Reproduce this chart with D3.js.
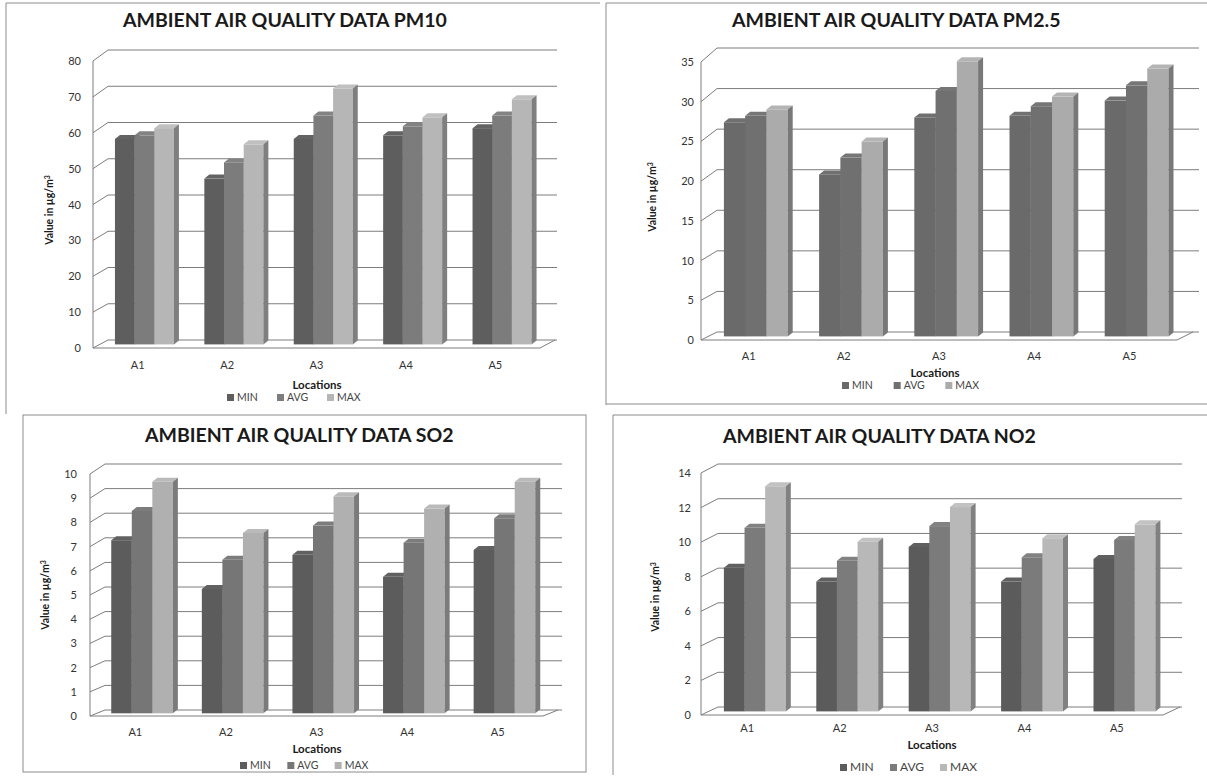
<!DOCTYPE html>
<html lang="en">
<head>
    <meta charset="UTF-8">
    <title>Ambient Air Quality Data</title>
    <script src="https://cdn.jsdelivr.net/npm/d3@7/dist/d3.min.js"></script>
    <style>
        body { margin: 0; background: #fff; }
        svg { display: block; }
        text { font-family: Lato, "Open Sans", sans-serif; }
    </style>
</head>
<body>
<script>

    // categories / series
    const locations = ["A1", "A2", "A3", "A4", "A5"];
    const seriesNames = ["MIN", "AVG", "MAX"];

    // PM10
    const pm10Min = [57, 46, 57, 58, 60];
    const pm10Avg = [58, 50.5, 63.5, 60.5, 63.5];
    const pm10Max = [60, 55.5, 71, 63, 68];
    const pm10Ticks = [0, 10, 20, 30, 40, 50, 60, 70, 80];

    // PM2.5
    const pm25Min = [26.7, 20.2, 27.3, 27.5, 29.4];
    const pm25Avg = [27.5, 22.3, 30.6, 28.7, 31.3];
    const pm25Max = [28.3, 24.3, 34.3, 29.9, 33.4];
    const pm25Ticks = [0, 5, 10, 15, 20, 25, 30, 35];

    // SO2
    const so2Min = [7.1, 5.1, 6.5, 5.6, 6.7];
    const so2Avg = [8.3, 6.3, 7.7, 7.0, 8.0];
    const so2Max = [9.5, 7.4, 8.9, 8.4, 9.5];
    const so2Ticks = [0, 1, 2, 3, 4, 5, 6, 7, 8, 9, 10];

    // NO2
    const no2Min = [8.3, 7.5, 9.5, 7.5, 8.8];
    const no2Avg = [10.6, 8.7, 10.7, 8.9, 9.9];
    const no2Max = [13.0, 9.8, 11.8, 10.0, 10.8];
    const no2Ticks = [0, 2, 4, 6, 8, 10, 12, 14];

    const width = 1207;
    const height = 783;

    const svg = d3.select("body")
        .append("svg")
        .attr("width", width)
        .attr("height", height);

    // panel frames
    const frameColor = "#8c8c8c";
    svg.append("path").attr("d", "M6,414V3H600").attr("fill", "none").attr("stroke", frameColor);
    svg.append("path").attr("d", "M606,405V3H1207M606,404H1207").attr("fill", "none").attr("stroke", frameColor);
    svg.append("rect").attr("x", 23).attr("y", 415).attr("width", 563).attr("height", 357)
        .attr("fill", "none").attr("stroke", frameColor);
    svg.append("path").attr("d", "M613,775V415H1207").attr("fill", "none").attr("stroke", frameColor);

    function drawPanel(p) {
        const g = svg.append("g");
        const yMax = d3.max(p.ticks);

        // front plane, back wall, and the plane the bar faces sit on
        const yFront = d3.scaleLinear().domain([0, yMax]).range(p.yFront);
        const yBack = d3.scaleLinear().domain([0, yMax]).range(p.yBack);
        const t = 0.45;
        const yBar = d3.scaleLinear().domain([0, yMax])
            .range([p.yFront[0] + t * (p.yBack[0] - p.yFront[0]), p.yFront[1] + t * (p.yBack[1] - p.yFront[1])]);

        const x = d3.scaleBand().domain(locations).range([p.x0, p.x1]).paddingInner(p.pad).paddingOuter(p.pad / 2);
        const xs = d3.scaleBand().domain(seriesNames).range([0, x.bandwidth()]);

        // walls + gridlines
        const grid = g.append("g").attr("stroke", "#7d7d7d").attr("stroke-width", 1).attr("fill", "none");
        grid.selectAll(".back").data(p.ticks).join("line")
            .attr("x1", p.x0 + p.dx).attr("x2", p.x1 + p.dx + p.extra)
            .attr("y1", d => yBack(d)).attr("y2", d => yBack(d));
        grid.selectAll(".side").data(p.ticks).join("line")
            .attr("x1", p.x0).attr("x2", p.x0 + p.dx)
            .attr("y1", d => yFront(d)).attr("y2", d => yBack(d));
        grid.append("line")
            .attr("x1", p.x0).attr("x2", p.x0)
            .attr("y1", yFront(0)).attr("y2", yFront(yMax));
        grid.append("path")
            .attr("d", `M${p.x0},${yFront(0)}H${p.x1}L${p.x1 + p.dx},${yBack(0)}`);

        // y axis labels
        const yAxis = g.append("g")
            .attr("transform", `translate(${p.x0 - p.tickGap},0)`)
            .call(d3.axisLeft(yFront).tickValues(p.ticks).tickSize(0).tickPadding(0));
        yAxis.select(".domain").remove();
        yAxis.selectAll("text")
            .attr("fill", "#333")
            .style("font-size", "11px");

        // x axis labels
        const xAxis = g.append("g")
            .attr("transform", `translate(0,${p.xLabelY})`)
            .call(d3.axisBottom(x).tickSize(0).tickPadding(0));
        xAxis.select(".domain").remove();
        xAxis.selectAll("text")
            .attr("y", 0).attr("dy", 0)
            .attr("fill", "#333")
            .style("font-size", "11px");

        // bars (front, top, side)
        const rows = locations.map((loc, i) => ({
            loc,
            vals: seriesNames.map((s, j) => ({ s, v: p.values[j][i], j }))
        }));
        const bdx = 5, bdy = 4;
        const shift = p.dx * t;
        rows.forEach(r => {
            r.vals.forEach(d => {
                const bx = x(r.loc) + xs(d.s) + shift;
                const bw = xs.bandwidth();
                const top = yBar(d.v);
                const bot = yBar(0);
                const c = d3.color(p.colors[d.j]);
                g.append("rect")
                    .attr("x", bx).attr("y", top)
                    .attr("width", bw).attr("height", bot - top)
                    .attr("fill", c.formatHex());
                g.append("path")
                    .attr("d", `M${bx},${top}L${bx + bdx},${top - bdy}H${bx + bw + bdx}L${bx + bw},${top}Z`)
                    .attr("fill", c.brighter(0.15).formatHex());
                g.append("path")
                    .attr("d", `M${bx + bw},${top}L${bx + bw + bdx},${top - bdy}V${bot - bdy}L${bx + bw},${bot}Z`)
                    .attr("fill", c.darker(1).formatHex());
            });
        });

        // title
        g.append("text")
            .attr("x", p.titleX).attr("y", p.titleY)
            .attr("fill", "#1a1a1a")
            .style("font-size", "19.5px")
            .style("font-weight", "bold")
            .text(p.title);

        // axis titles
        const yt = g.append("text")
            .attr("transform", `translate(${p.yTitleX},${p.yTitleY}) rotate(-90)`)
            .attr("text-anchor", "middle")
            .attr("fill", "#1a1a1a")
            .style("font-size", "10.5px")
            .style("font-weight", "bold");
        yt.append("tspan").text(p.yTitle);
        yt.append("tspan").attr("dy", -3).style("font-size", "7px").text("3");

        g.append("text")
            .attr("x", p.locX).attr("y", p.locY)
            .attr("text-anchor", "middle")
            .attr("fill", "#1a1a1a")
            .style("font-size", "11.5px")
            .style("font-weight", "bold")
            .text("Locations");

        // legend
        const lx = d3.scaleBand().domain(seriesNames).range(p.legend);
        const leg = g.selectAll(".leg").data(seriesNames).join("g")
            .attr("transform", d => `translate(${lx(d)},${p.legendY})`);
        leg.append("rect")
            .attr("x", 0).attr("y", -7)
            .attr("width", 7).attr("height", 7)
            .attr("fill", (d, i) => p.colors[i]);
        leg.append("text")
            .attr("x", 10).attr("y", 0)
            .attr("fill", "#444")
            .style("font-size", p.legendSize)
            .text(d => d);
    }

    drawPanel({
        title: "AMBIENT AIR QUALITY DATA PM10", titleX: 123, titleY: 27,
        values: [pm10Min, pm10Avg, pm10Max], ticks: pm10Ticks,
        x0: 93, x1: 540, dx: 15, extra: 2, yFront: [348, 61], yBack: [340, 50], pad: 0.34,
        tickGap: 12, xLabelY: 369, yTitle: "Value in µg/m", yTitleX: 53, yTitleY: 210,
        locX: 317, locY: 389, legend: [227, 377], legendY: 401, legendSize: "10.5px",
        colors: ["#5e5e5e", "#7c7c7c", "#b6b6b6"]
    });

    drawPanel({
        title: "AMBIENT AIR QUALITY DATA PM2.5", titleX: 732, titleY: 27,
        values: [pm25Min, pm25Avg, pm25Max], ticks: pm25Ticks,
        x0: 701, x1: 1177, dx: 16, extra: 6, yFront: [340, 62], yBack: [332, 48], pad: 0.33,
        tickGap: 7, xLabelY: 360, yTitle: "Value in µg/m", yTitleX: 656, yTitleY: 197,
        locX: 935, locY: 377, legend: [842, 997], legendY: 389, legendSize: "10.5px",
        colors: ["#6a6a6a", "#707070", "#ababab"]
    });

    drawPanel({
        title: "AMBIENT AIR QUALITY DATA SO2", titleX: 145, titleY: 442,
        values: [so2Min, so2Avg, so2Max], ticks: so2Ticks,
        x0: 90, x1: 543, dx: 15, extra: 4, yFront: [716, 474], yBack: [710, 464], pad: 0.32,
        tickGap: 13, xLabelY: 736, yTitle: "Value in µg/m", yTitleX: 49, yTitleY: 595,
        locX: 317, locY: 753, legend: [240, 382], legendY: 769, legendSize: "10.5px",
        colors: ["#5c5c5c", "#767676", "#b0b0b0"]
    });

    drawPanel({
        title: "AMBIENT AIR QUALITY DATA NO2", titleX: 723, titleY: 443,
        values: [no2Min, no2Avg, no2Max], ticks: no2Ticks,
        x0: 701, x1: 1163, dx: 17, extra: 2, yFront: [715, 473], yBack: [707, 464], pad: 0.33,
        tickGap: 10, xLabelY: 732, yTitle: "Value in  µg/m", yTitleX: 659, yTitleY: 597,
        locX: 932, locY: 749, legend: [840, 990], legendY: 771, legendSize: "12px",
        colors: ["#5b5b5b", "#7b7b7b", "#b8b8b8"]
    });

</script>
</body>
</html>
